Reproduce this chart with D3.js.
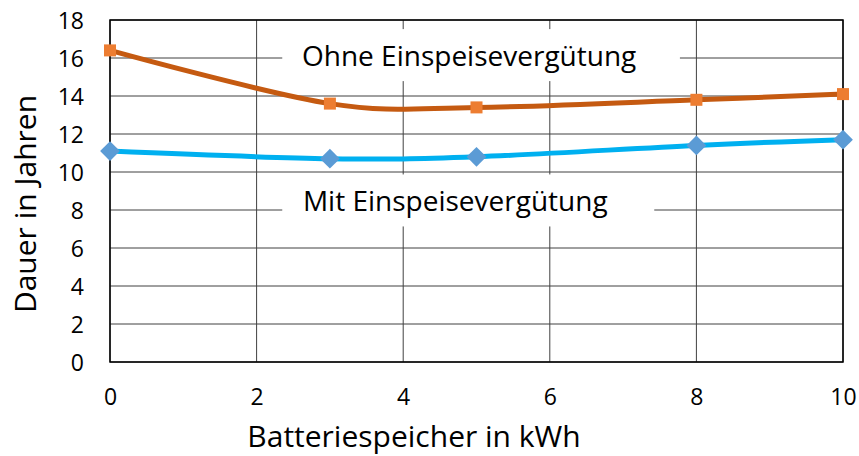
<!DOCTYPE html>
<html>
<head>
<meta charset="utf-8">
<script src="https://d3js.org/d3.v7.min.js"></script>
<style>
  body { margin: 0; background: #fff; }
  svg text { font-family: "Open Sans", sans-serif; fill: #000; }
</style>
</head>
<body>
<svg width="859" height="456"></svg>
<script>
// Batteriespeicher in kWh
const speicher = [0, 3, 5, 8, 10];
// Dauer in Jahren
const ohneVerguetung = [16.4, 13.6, 13.4, 13.8, 14.1];
const mitVerguetung = [11.1, 10.7, 10.8, 11.4, 11.7];
const xTicks = [0, 2, 4, 6, 8, 10];
const yTicks = [0, 2, 4, 6, 8, 10, 12, 14, 16, 18];
const labels = [
  { text: "Ohne Einspeisevergütung", x: 4.9, y: 16.1, x0: 2.35, x1: 7.775 },
  { text: "Mit Einspeisevergütung", x: 4.71, y: 8.45, x0: 2.35, x1: 7.425 }
];

const svg = d3.select("svg");
const margin = { left: 110, right: 16, top: 20, bottom: 94 };
const width = 859, height = 456;

const x = d3.scaleLinear().domain([0, 10]).range([margin.left, width - margin.right]);
const y = d3.scaleLinear().domain([0, 18]).range([height - margin.bottom, margin.top]);

// grid
const grid = svg.append("g");
grid.selectAll("line.h").data(yTicks).enter().append("line")
  .attr("x1", x(0)).attr("x2", x(10))
  .attr("y1", d => y(d)).attr("y2", d => y(d))
  .attr("stroke", "#404040").attr("stroke-width", 1);
grid.selectAll("line.v").data(xTicks).enter().append("line")
  .attr("x1", d => x(d)).attr("x2", d => x(d))
  .attr("y1", y(0)).attr("y2", y(18))
  .attr("stroke", "#404040").attr("stroke-width", 1);

// label boxes hide the grid behind the text
labels.forEach(l => {
  svg.append("rect")
    .attr("x", x(l.x0)).attr("width", x(l.x1) - x(l.x0))
    .attr("y", y(l.y) - 27).attr("height", 52)
    .attr("fill", "#fff");
});

// frame
svg.append("rect")
  .attr("x", x(0)).attr("y", y(18))
  .attr("width", x(10) - x(0)).attr("height", y(0) - y(18))
  .attr("fill", "none").attr("stroke", "#000").attr("stroke-width", 1.5);

// axes text
const yAxis = svg.append("g").attr("transform", `translate(${x(0) - 26},0)`)
  .call(d3.axisLeft(y).tickValues(yTicks).tickSize(0).tickPadding(0));
yAxis.select(".domain").remove();
yAxis.selectAll("text").attr("font-size", 23).attr("dy", "0.35em");

const xAxis = svg.append("g").attr("transform", `translate(0,${y(0) + 27})`)
  .call(d3.axisBottom(x).tickValues(xTicks).tickSize(0).tickPadding(0));
xAxis.select(".domain").remove();
xAxis.selectAll("text").attr("font-size", 23).attr("dy", "0.71em");

svg.selectAll(".tick text").style("font-family", "'Open Sans', sans-serif").attr("fill", "#000");

svg.append("text")
  .attr("x", 414).attr("y", 447)
  .attr("text-anchor", "middle").attr("font-size", 30)
  .text("Batteriespeicher in kWh");

svg.append("text")
  .attr("transform", "translate(36,204) rotate(-90)")
  .attr("text-anchor", "middle").attr("font-size", 30)
  .text("Dauer in Jahren");

// lines
const line = vals => d3.line()
  .x((d, i) => x(speicher[i]))
  .y(d => y(d))
  .curve(d3.curveCardinal.tension(0))(vals);

svg.append("path").attr("d", line(ohneVerguetung))
  .attr("fill", "none").attr("stroke", "#C55A11").attr("stroke-width", 5);
svg.append("path").attr("d", line(mitVerguetung))
  .attr("fill", "none").attr("stroke", "#00B0F0").attr("stroke-width", 5);

svg.selectAll("rect.sq").data(ohneVerguetung).enter().append("rect")
  .attr("x", (d, i) => x(speicher[i]) - 6).attr("y", d => y(d) - 6)
  .attr("width", 12).attr("height", 12)
  .attr("fill", "#ED7D31");

svg.selectAll("path.dia").data(mitVerguetung).enter().append("path")
  .attr("d", d3.symbol(d3.symbolDiamond2, 250))
  .attr("transform", (d, i) => `translate(${x(speicher[i])},${y(d)})`)
  .attr("fill", "#5B9BD5");

// annotations
labels.forEach(l => {
  svg.append("text")
    .attr("x", x(l.x)).attr("y", y(l.y))
    .attr("dy", "0.35em")
    .attr("text-anchor", "middle").attr("font-size", 28)
    .text(l.text);
});
</script>
</body>
</html>
